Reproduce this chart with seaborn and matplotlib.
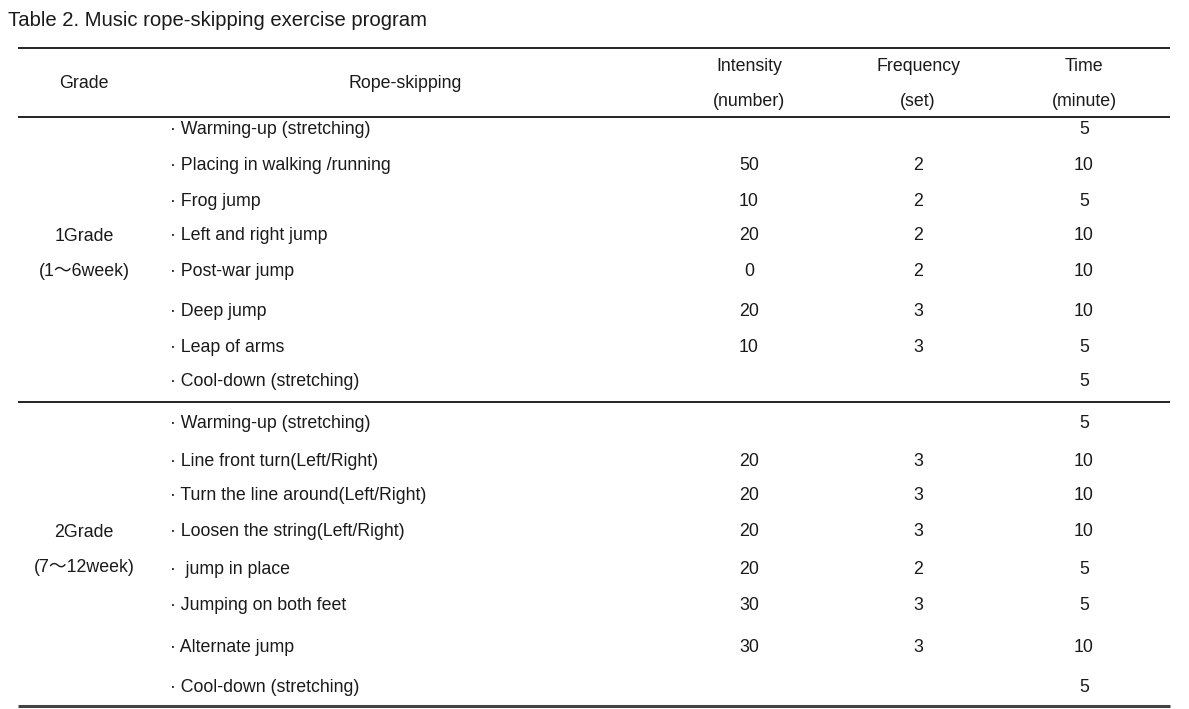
import matplotlib
matplotlib.use("Agg")
import matplotlib.pyplot as plt
import seaborn as sns

# table contents
title = "Table 2. Music rope-skipping exercise program"
headers = ["Grade", "Rope-skipping", "Intensity\n(number)", "Frequency\n(set)", "Time\n(minute)"]
grades = ["1Grade\n(1\uff5e6week)", "2Grade\n(7\uff5e12week)"]
exercises_1 = ["Warming-up (stretching)", "Placing in walking /running", "Frog jump",
               "Left and right jump", "Post-war jump", "Deep jump", "Leap of arms",
               "Cool-down (stretching)"]
intensity_1 = ["", "50", "10", "20", "0", "20", "10", ""]
frequency_1 = ["", "2", "2", "2", "2", "3", "3", ""]
time_1 = ["5", "10", "5", "10", "10", "10", "5", "5"]
exercises_2 = ["Warming-up (stretching)", "Line front turn(Left/Right)",
               "Turn the line around(Left/Right)", "Loosen the string(Left/Right)",
               " jump in place", "Jumping on both feet", "Alternate jump",
               "Cool-down (stretching)"]
intensity_2 = ["", "20", "20", "20", "20", "30", "30", ""]
frequency_2 = ["", "3", "3", "3", "2", "3", "3", ""]
time_2 = ["5", "10", "10", "10", "5", "5", "10", "5"]

sns.set_theme(style="white")
plt.rcParams['font.family'] = ['Liberation Sans', 'DejaVu Sans', 'Noto Sans CJK KR']

W, H = 1189, 709
fig = plt.figure(figsize=(W / 100, H / 100), dpi=100)
ax = fig.add_axes([0, 0, 1, 1])
ax.set_xlim(0, W)
ax.set_ylim(H, 0)
ax.axis("off")

ink = "#1a1a1a"
fs = 12.8

# layout
col_x = [84, 405, 749, 918, 1084]
item_x = 170
rows_1 = [129, 165, 201, 236, 271, 311, 347, 382]
rows_2 = [423, 461, 496, 531, 569, 606, 647, 687]
grade_y = [254, 550]

ax.text(8, 21, title, fontsize=14.6, color=ink, ha="left", va="center")

ax.hlines(48, 18, 1170, color="#111", lw=1.3)
ax.hlines(117, 18, 1170, color="#111", lw=1.3)
ax.hlines(402, 18, 1170, color="#111", lw=1.3)
ax.hlines(706, 18, 1170, color="#444", lw=2.2)

for x, h in zip(col_x, headers):
    ax.text(x, 84, h, fontsize=fs, color=ink, ha="center", va="center", linespacing=2.45)

groups = [(exercises_1, intensity_1, frequency_1, time_1, rows_1),
          (exercises_2, intensity_2, frequency_2, time_2, rows_2)]
for g, (ex, it, fr, tm, ys) in enumerate(groups):
    ax.text(col_x[0], grade_y[g], grades[g], fontsize=fs, color=ink,
            ha="center", va="center", linespacing=2.4)
    for y, e, a, b, c in zip(ys, ex, it, fr, tm):
        ax.text(item_x, y, "\u00b7 " + e, fontsize=fs, color=ink, ha="left", va="center")
        ax.text(col_x[2], y, a, fontsize=fs, color=ink, ha="center", va="center")
        ax.text(col_x[3], y, b, fontsize=fs, color=ink, ha="center", va="center")
        ax.text(col_x[4], y, c, fontsize=fs, color=ink, ha="center", va="center")

fig.savefig("out.png", dpi=100)
